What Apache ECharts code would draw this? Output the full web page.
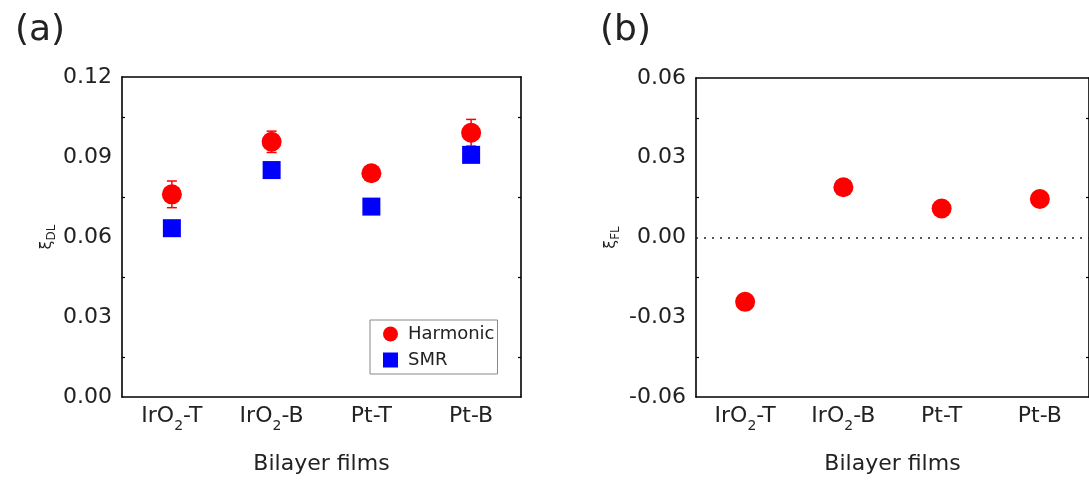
<!DOCTYPE html>
<html>
<head>
<meta charset="utf-8">
<script src="https://cdn.jsdelivr.net/npm/echarts@6/dist/echarts.min.js"></script>
<style>
  html, body { margin: 0; padding: 0; background: #fff; }
  #main { width: 1089px; height: 487px; }
</style>
</head>
<body>
<div id="main"></div>
<script>
// data
const categories = ['IrO2-T', 'IrO2-B', 'Pt-T', 'Pt-B'];
const harmonicDL = [0.0760, 0.0957, 0.0839, 0.0991];
const harmonicDLErr = [0.0050, 0.0040, 0.0015, 0.0050];
const smrDL = [0.0633, 0.0851, 0.0714, 0.0908];
const harmonicFL = [-0.0242, 0.0189, 0.0109, 0.0145];
const harmonicFLErr = [0.0010, 0.0025, 0.0010, 0.0010];

const FONT = 'DejaVu Sans';
const INK = '#222';
const RED = '#ff0000';
const BLUE = '#0000ff';

// IrO2 -> IrO with subscript 2
function catLabel(v) {
  if (v.indexOf('IrO2') === 0) return '{t|IrO}{s|2}{t|' + v.slice(4) + '}';
  return '{t|' + v + '}';
}
const catRich = {
  t: { fontSize: 22, fontFamily: FONT, color: INK, lineHeight: 34 },
  s: { fontSize: 14, fontFamily: FONT, color: INK, lineHeight: 14, verticalAlign: 'bottom' }
};

function tickFmt(v) {
  if (Math.abs(v) < 1e-9) return '0.00';
  return v.toFixed(2);
}

// x axes: main one (labels + ticks at the categories), plus an extra for the
// short ticks between categories, both at bottom and at top
function xAxes(gridIndex, withName) {
  const base = {
    type: 'category', gridIndex: gridIndex, data: categories,
    splitLine: { show: false }
  };
  return [
    Object.assign({}, base, {
      position: 'bottom',
      name: withName ? 'Bilayer films' : '',
      nameLocation: 'middle', nameGap: 56,
      nameTextStyle: { fontSize: 22, fontFamily: FONT, color: INK },
      axisLine: { onZero: false, lineStyle: { color: '#000', width: 1.6 } },
      axisTick: { alignWithLabel: true, interval: 0, inside: true, length: 6, lineStyle: { color: '#000', width: 1.2 } },
      axisLabel: { interval: 0, margin: 2, formatter: catLabel, rich: catRich }
    }),
    Object.assign({}, base, {
      position: 'bottom',
      axisLine: { show: false, onZero: false },
      axisTick: { interval: 0, inside: true, length: 3, lineStyle: { color: '#000', width: 1.2 } },
      axisLabel: { show: false }
    }),
    Object.assign({}, base, {
      position: 'top',
      axisLine: { onZero: false, lineStyle: { color: '#000', width: 1.6 } },
      axisTick: { alignWithLabel: true, interval: 0, inside: true, length: 6, lineStyle: { color: '#000', width: 1.2 } },
      axisLabel: { show: false }
    }),
    Object.assign({}, base, {
      position: 'top',
      axisLine: { show: false, onZero: false },
      axisTick: { interval: 0, inside: true, length: 3, lineStyle: { color: '#000', width: 1.2 } },
      axisLabel: { show: false }
    })
  ];
}

function yAxes(gridIndex, min, max, name, gap) {
  const base = {
    type: 'value', gridIndex: gridIndex, min: min, max: max, interval: 0.03,
    splitLine: { show: false },
    axisLine: { show: true, onZero: false, lineStyle: { color: '#000', width: 1.6 } },
    axisTick: { inside: true, length: 6, lineStyle: { color: '#000', width: 1.2 } },
    minorTick: { show: true, splitNumber: 2, length: 3, lineStyle: { color: '#000', width: 1.2 } }
  };
  return [
    Object.assign({}, base, {
      position: 'left',
      name: name, nameLocation: 'middle', nameRotate: 90, nameGap: gap,
      nameTextStyle: {
        rich: {
          x: { fontSize: 16, fontFamily: FONT, color: INK, lineHeight: 22 },
          d: { fontSize: 12, fontFamily: FONT, color: INK, lineHeight: 12, verticalAlign: 'bottom' }
        }
      },
      axisLabel: { fontSize: 22, fontFamily: FONT, color: INK, margin: 10, formatter: tickFmt }
    }),
    Object.assign({}, base, {
      position: 'right',
      axisLabel: { show: false }
    })
  ];
}

function errorBars(color) {
  return function (params, api) {
    const x = api.value(0);
    const top = api.coord([x, api.value(2)]);
    const bot = api.coord([x, api.value(1)]);
    const cap = 5;
    const style = { stroke: color, lineWidth: 1.5 };
    return {
      type: 'group',
      children: [
        { type: 'line', shape: { x1: top[0], y1: top[1], x2: bot[0], y2: bot[1] }, style: style },
        { type: 'line', shape: { x1: top[0] - cap, y1: top[1], x2: top[0] + cap, y2: top[1] }, style: style },
        { type: 'line', shape: { x1: bot[0] - cap, y1: bot[1], x2: bot[0] + cap, y2: bot[1] }, style: style }
      ]
    };
  };
}

const dlErrData = categories.map((c, i) => [i, harmonicDL[i] - harmonicDLErr[i], harmonicDL[i] + harmonicDLErr[i]]);
const flErrData = categories.map((c, i) => [i, harmonicFL[i] - harmonicFLErr[i], harmonicFL[i] + harmonicFLErr[i]]);

const chart = echarts.init(document.getElementById('main'));
chart.setOption({
  animation: false,
  backgroundColor: '#fff',
  title: [
    { text: '(a)', left: 10, top: 8, textStyle: { fontSize: 36, fontWeight: 'normal', fontFamily: FONT, color: INK } },
    { text: '(b)', left: 595, top: 8, textStyle: { fontSize: 36, fontWeight: 'normal', fontFamily: FONT, color: INK } }
  ],
  grid: [
    { left: 122, top: 77, width: 399, height: 320 },
    { left: 696, top: 78, width: 396, height: 319 }
  ],
  legend: {
    left: 370, top: 320, orient: 'vertical',
    data: [{ name: 'Harmonic', icon: 'circle' }, { name: 'SMR', icon: 'rect' }],
    itemWidth: 15, itemHeight: 15, itemGap: 8,
    padding: [5, 3, 5, 13],
    borderColor: '#888', borderWidth: 1,
    textStyle: { fontSize: 18, fontFamily: FONT, color: INK, padding: [0, 0, 0, 5] }
  },
  xAxis: xAxes(0, true).concat(xAxes(1, true)),
  yAxis: yAxes(0, 0, 0.12, '{x|ξ}{d|DL}', 64).concat(yAxes(1, -0.06, 0.06, '{x|ξ}{d|FL}', 74)),
  series: [
    {
      type: 'custom', name: 'errDL', xAxisIndex: 0, yAxisIndex: 0,
      renderItem: errorBars(RED), encode: { x: 0, y: [1, 2] }, data: dlErrData, z: 2
    },
    {
      type: 'scatter', name: 'Harmonic', xAxisIndex: 0, yAxisIndex: 0,
      symbol: 'circle', symbolSize: 20, itemStyle: { color: RED, opacity: 1 }, z: 3,
      data: harmonicDL
    },
    {
      type: 'scatter', name: 'SMR', xAxisIndex: 0, yAxisIndex: 0,
      symbol: 'rect', symbolSize: 18, itemStyle: { color: BLUE, opacity: 1 }, z: 3,
      data: smrDL
    },
    {
      type: 'custom', name: 'errFL', xAxisIndex: 4, yAxisIndex: 2,
      renderItem: errorBars(RED), encode: { x: 0, y: [1, 2] }, data: flErrData, z: 2
    },
    {
      type: 'scatter', name: 'HarmonicFL', xAxisIndex: 4, yAxisIndex: 2,
      symbol: 'circle', symbolSize: 20, itemStyle: { color: RED, opacity: 1 }, z: 3,
      data: harmonicFL,
      markLine: {
        silent: true, symbol: ['none', 'none'], label: { show: false },
        lineStyle: { color: '#222', type: [2, 6], width: 1.5 },
        data: [{ yAxis: 0 }]
      }
    }
  ]
});
</script>
</body>
</html>
